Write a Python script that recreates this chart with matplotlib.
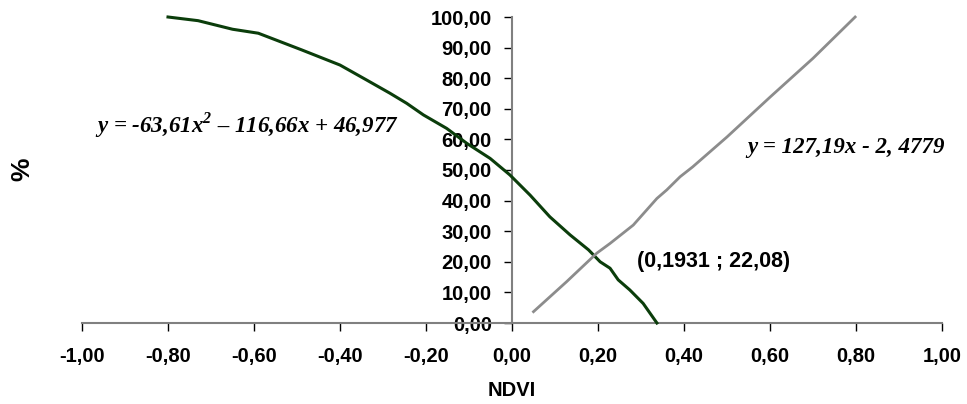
import matplotlib
matplotlib.use("Agg")
from matplotlib import pyplot as plt
import matplotlib.ticker as ticker

# NDVI vs %
ndvi_green = [-0.80, -0.73, -0.65, -0.59, -0.49, -0.40, -0.338, -0.284, -0.245, -0.206,
              -0.152, -0.105, -0.051, -0.005, 0.042, 0.088, 0.135, 0.178, 0.205, 0.228,
              0.247, 0.274, 0.305, 0.337]
pct_green = [100.0, 98.8, 96.0, 94.7, 89.3, 84.3, 79.4, 75.1, 71.8, 68.0,
             63.6, 58.7, 53.8, 48.4, 41.8, 34.7, 28.8, 23.9, 20.0, 17.9,
             14.1, 10.8, 6.4, 0.0]

ndvi_gray = [0.050, 0.127, 0.197, 0.228, 0.282, 0.337, 0.36, 0.391, 0.42, 0.50,
             0.60, 0.70, 0.798]
pct_gray = [3.7, 13.5, 22.8, 26.0, 32.0, 40.7, 43.5, 47.8, 51.0, 60.8,
            73.8, 86.5, 100.0]

x_ticks = [-1.0, -0.8, -0.6, -0.4, -0.2, 0.0, 0.2, 0.4, 0.6, 0.8, 1.0]
y_ticks = [0, 10, 20, 30, 40, 50, 60, 70, 80, 90, 100]

eq_green = r"y = -63,61x$^{\mathbf{2}}$ – 116,66x + 46,977"
eq_gray = "y = 127,19x - 2, 4779"
cross_label = "(0,1931 ; 22,08)"

plt.rcParams['font.family'] = ['Liberation Sans', 'DejaVu Sans']
plt.rcParams['mathtext.fontset'] = 'custom'
plt.rcParams['mathtext.bf'] = 'Liberation Serif:bold:italic'

fig = plt.figure(figsize=(9.67, 4.04), dpi=100)
ax = fig.add_axes([82/967, 81/404, 860/967, 306/404])

ax.plot(ndvi_green, pct_green, color='#0b3d0b', lw=2.2, clip_on=False, zorder=3)
ax.plot(ndvi_gray, pct_gray, color='#8c8c8c', lw=2.0, clip_on=False, zorder=3)

ax.set_xlim(-1, 1)
ax.set_ylim(0, 100)
ax.spines['left'].set_position(('data', 0))
ax.spines['bottom'].set_position(('data', 0))
ax.spines['top'].set_visible(False)
ax.spines['right'].set_visible(False)
for s in ('left', 'bottom'):
    ax.spines[s].set_color('#808080')
    ax.spines[s].set_linewidth(1.5)

ax.set_xticks(x_ticks)
ax.set_yticks(y_ticks)
fmt = ticker.FuncFormatter(lambda v, p: f"{v:.2f}".replace('.', ','))
ax.xaxis.set_major_formatter(fmt)
ax.yaxis.set_major_formatter(fmt)
ax.tick_params(axis='x', length=6, width=1, color='black', pad=11,
               labelsize=14.5, direction='out')
ax.tick_params(axis='y', length=6, width=1, color='black', pad=8.5,
               labelsize=14.5, direction='out')
for lab in ax.get_xticklabels() + ax.get_yticklabels():
    lab.set_fontweight('bold')

fig.text(512/967, 1 - 390/404, "NDVI", ha='center', va='center',
         fontsize=14.5, fontweight='bold')
fig.text(22/967, 1 - 169/404, "%", ha='center', va='center', rotation=90,
         fontsize=19, fontweight='bold')

ax.text(-0.616, 64.5, eq_green, ha='center', va='center', fontsize=16.5,
        family='Liberation Serif', fontweight='bold', style='italic')
ax.text(0.777, 57.2, eq_gray, ha='center', va='center', fontsize=16.5,
        family='Liberation Serif', fontweight='bold', style='italic')
ax.text(0.29, 20.0, cross_label, ha='left', va='center', fontsize=15.5,
        fontweight='bold')

plt.savefig("out.png", dpi=100)
